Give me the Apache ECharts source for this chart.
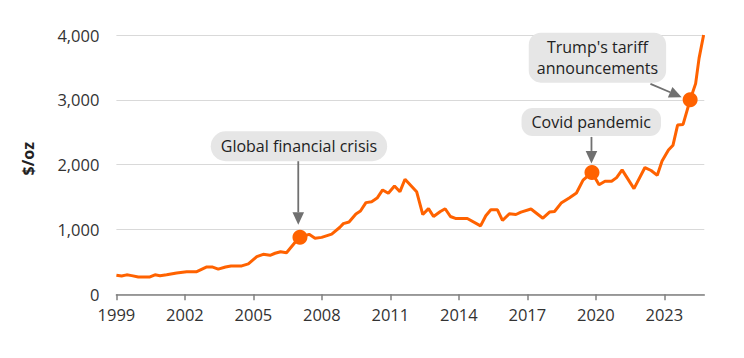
<!DOCTYPE html>
<html><head><meta charset="utf-8">
<script src="https://cdn.jsdelivr.net/npm/echarts@6/dist/echarts.min.js"></script>
<style>html,body{margin:0;padding:0;background:#fff}#c{width:744px;height:358px}</style>
</head><body><div id="c"></div>
<script>
// ---- data ----
const years = [1999.00,1999.23,1999.45,1999.67,1999.96,2000.47,2000.69,2000.91,2001.20,2001.64,2002.08,2002.52,2002.96,2003.19,2003.46,2003.78,2004.02,2004.49,2004.78,2005.15,2005.43,2005.73,2005.95,2006.19,2006.45,2006.82,2007.04,2007.44,2007.70,2007.99,2008.43,2008.79,2008.94,2009.19,2009.49,2009.69,2009.93,2010.18,2010.42,2010.66,2010.91,2011.18,2011.42,2011.64,2012.15,2012.42,2012.67,2012.89,2013.19,2013.40,2013.63,2013.85,2014.37,2014.95,2015.18,2015.40,2015.69,2015.91,2016.21,2016.50,2016.72,2017.16,2017.68,2017.97,2018.19,2018.48,2018.85,2019.15,2019.44,2019.83,2020.14,2020.40,2020.69,2020.91,2021.15,2021.67,2022.15,2022.42,2022.69,2022.90,2023.18,2023.38,2023.58,2023.82,2024.13,2024.37,2024.52,2024.72];
const prices = [295,282,300,288,268,267,300,287,303,330,347,349,422,422,388,422,438,438,470,580,617,602,633,657,642,800,880,925,866,878,928,1034,1090,1115,1240,1285,1414,1429,1485,1610,1558,1671,1583,1775,1583,1230,1322,1200,1278,1320,1200,1170,1170,1055,1211,1304,1304,1139,1242,1231,1268,1315,1174,1268,1278,1407,1491,1563,1761,1880,1690,1745,1745,1800,1920,1630,1955,1910,1835,2055,2225,2300,2610,2620,3000,3250,3640,4000];
const xTickLabels = ['1999','2002','2005','2008','2011','2014','2017','2020','2023'];
const yTickLabels = ['0','1,000','2,000','3,000','4,000'];
const eventNames = ['Global financial crisis','Covid pandemic',"Trump's tariff\nannouncements"];
const eventYears = [2007.04, 2019.83, 2024.13];
const eventPrices = [880, 1880, 3000];
const startYear = 1999, endYear = 2024.75;

// ---- styles ----
const FONT = '"Open Sans", "Noto Sans", sans-serif';
const ORANGE = '#FF6200';
const ARROW = '#707070';
const annStyle = [
  {dx:-1, dy:-91, pad:[6,10,6,10], lh:18, r:15, a:[-1.7,-77,-1.7,-12.5]},
  {dx:-0.7, dy:-50.5, pad:[5,10,5,10], lh:18, r:11, a:[-0.5,-35.5,-0.5,-9]},
  {dx:-92.7, dy:-42.2, pad:[4,8,4,8], lh:21, r:12, a:[-39.7,-16,-8.5,-2.6]}
];

const chart = echarts.init(document.getElementById('c'), null, {renderer:'svg'});
const lineData = years.map((y,i)=>[+(y-startYear).toFixed(2), prices[i]]);
const eventData = eventYears.map((y,i)=>[+(y-startYear).toFixed(2), eventPrices[i]]);
const xTickValues = xTickLabels.map(l => +l - startYear);

chart.setOption({
  animation:false,
  grid:{left:116.4, right:39.7, top:35, bottom:63.7, containLabel:false, outerBoundsMode:'none'},
  xAxis:{
    type:'value', min:0, max:endYear-startYear, interval:3,
    axisLine:{show:true, lineStyle:{color:'#808080', width:1.5}},
    axisTick:{show:true, length:6, customValues:xTickValues, lineStyle:{color:'#808080', width:1.5}},
    axisLabel:{customValues:xTickValues, formatter:v=>xTickLabels[Math.round(v/3)]||'', margin:12, fontSize:16.5, color:'#333', fontFamily:FONT},
    splitLine:{show:false}
  },
  yAxis:{
    type:'value', min:0, max:4000, interval:1000,
    name:'$/oz', nameLocation:'middle', nameRotate:90, nameGap:80,
    nameTextStyle:{fontWeight:'bold', fontSize:16, color:'#222', fontFamily:FONT, padding:[0,0,0,12]},
    axisLine:{show:false}, axisTick:{show:false},
    axisLabel:{formatter:v=>yTickLabels[Math.round(v/1000)], margin:17, fontSize:16.5, color:'#333', fontFamily:FONT},
    splitLine:{lineStyle:{color:'#d9d9d9', width:1}}
  },
  series:[
    {type:'line', data:lineData, showSymbol:false, clip:false, lineStyle:{color:ORANGE, width:3}, itemStyle:{color:ORANGE}, z:2},
    {type:'scatter', data:eventData, symbolSize:15, itemStyle:{color:ORANGE, opacity:1}, z:3}
  ]
});

function arrow(x1,y1,x2,y2){
  const dx=x2-x1, dy=y2-y1, L=Math.hypot(dx,dy), ux=dx/L, uy=dy/L;
  const hl=12.5, hw=5.8;
  const bx=x2-ux*hl, by=y2-uy*hl;
  return [
    {type:'line', shape:{x1,y1,x2:bx,y2:by}, style:{stroke:ARROW, lineWidth:1.8}, z:10},
    {type:'polygon', shape:{points:[[x2,y2],[bx-uy*hw,by+ux*hw],[bx+uy*hw,by-ux*hw]]}, style:{fill:ARROW}, z:10}
  ];
}
const g=[];
eventNames.forEach((name,i)=>{
  const p = chart.convertToPixel({gridIndex:0}, eventData[i]);
  const s = annStyle[i];
  g.push({type:'text', x:p[0]+s.dx, y:p[1]+s.dy, z:11, style:{
    text:name, align:'center', verticalAlign:'middle', fontSize:16, fontFamily:FONT, fill:'#222',
    backgroundColor:'#e6e6e6', borderRadius:s.r, padding:s.pad, lineHeight:s.lh}});
  g.push(...arrow(p[0]+s.a[0], p[1]+s.a[1], p[0]+s.a[2], p[1]+s.a[3]));
});
chart.setOption({graphic:g});
</script></body></html>
